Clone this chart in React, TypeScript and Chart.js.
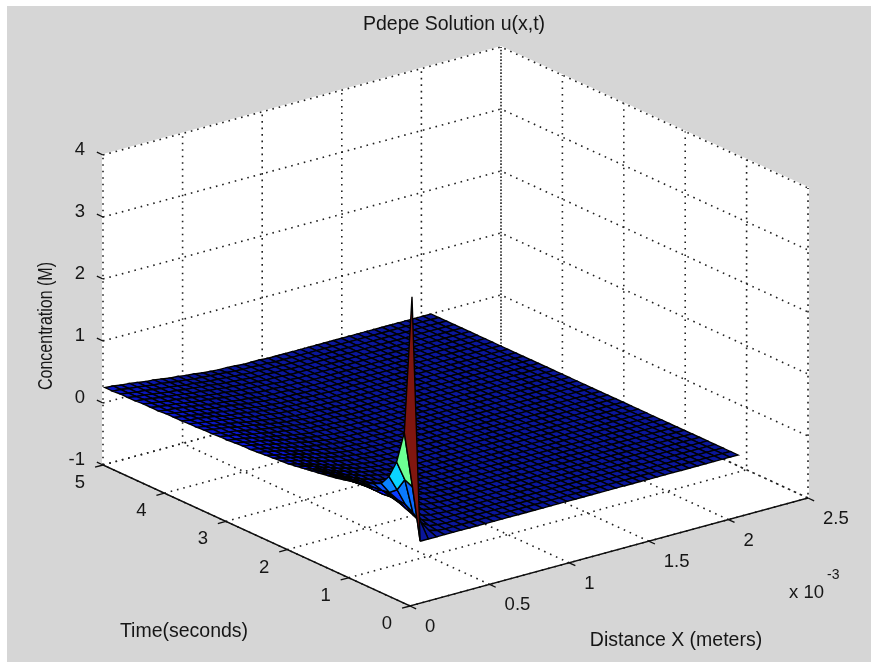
import React, { useEffect, useRef } from "react";
import { Chart, registerables } from "chart.js";

Chart.register(...registerables);

const titleText = "Pdepe Solution u(x,t)";
const xAxisLabel = "Distance X (meters)";
const tAxisLabel = "Time(seconds)";
const zAxisLabel = "Concentration (M)";

// axis ticks (x in units of 1e-3 m)
const xTicks = [0, 0.5, 1, 1.5, 2, 2.5];
const xTickLabels = ["0", "0.5", "1", "1.5", "2", "2.5"];
const tTicks = [0, 1, 2, 3, 4, 5];
const tTickLabels = ["0", "1", "2", "3", "4", "5"];
const zTicks = [-1, 0, 1, 2, 3, 4];
const zTickLabels = ["-1", "0", "1", "2", "3", "4"];

// mesh of the solution: distance (1e-3 m) and time (s)
const xGrid = [
  0.0125, 0.0637, 0.1149, 0.1661, 0.2173, 0.2685, 0.3197, 0.3709, 0.4221, 0.4733, 0.5245,
  0.5757, 0.6269, 0.6781, 0.7293, 0.7805, 0.8317, 0.8829, 0.9341, 0.9853, 1.0365, 1.0877,
  1.1389, 1.1901, 1.2413, 1.2925, 1.3437, 1.3949, 1.4461, 1.4973, 1.5485, 1.5997, 1.6509,
  1.7021, 1.7533, 1.8045, 1.8557, 1.9069, 1.9581, 2.0093, 2.0605,
];
const tGrid = [
  0, 0.125, 0.25, 0.375, 0.5, 0.625, 0.75, 0.875, 1, 1.125, 1.25, 1.375, 1.5, 1.625,
  1.75, 1.875, 2, 2.125, 2.25, 2.375, 2.5, 2.625, 2.75, 2.875, 3, 3.125, 3.25, 3.375,
  3.5, 3.625, 3.75, 3.875, 4, 4.125, 4.25, 4.375, 4.5, 4.625, 4.75, 4.875, 5,
];

// u(x,t): one list per time, entries per xGrid position; entries not listed read as 0
const uByTime = [
  [3.98],
  [1.73, 0.82, 0.22, 0.05, 0.01],
  [1.2, 0.88, 0.31, 0.11, 0.03, 0.01],
  [0.91, 0.66, 0.39, 0.18, 0.07, 0.02, 0.01],
  [0.74, 0.56, 0.41, 0.23, 0.11, 0.05, 0.02, 0.01],
  [0.68, 0.54, 0.44, 0.28, 0.16, 0.09, 0.05, 0.02, 0.01],
  [0.62, 0.53, 0.45, 0.31, 0.2, 0.12, 0.07, 0.04, 0.02, 0.01],
  [0.58, 0.5, 0.39, 0.29, 0.21, 0.14, 0.09, 0.06, 0.03, 0.02, 0.01],
  [0.55, 0.48, 0.39, 0.3, 0.22, 0.16, 0.11, 0.07, 0.04, 0.03, 0.01, 0.01],
  [0.52, 0.46, 0.38, 0.3, 0.23, 0.17, 0.12, 0.08, 0.05, 0.03, 0.02, 0.01],
  [0.49, 0.44, 0.37, 0.3, 0.23, 0.17, 0.13, 0.09, 0.06, 0.04, 0.02, 0.01, 0.01],
  [0.47, 0.42, 0.36, 0.3, 0.24, 0.18, 0.13, 0.1, 0.07, 0.04, 0.03, 0.02, 0.01],
  [0.45, 0.41, 0.35, 0.29, 0.24, 0.18, 0.14, 0.1, 0.07, 0.05, 0.03, 0.02, 0.01, 0.01],
  [0.43, 0.39, 0.34, 0.29, 0.23, 0.19, 0.14, 0.11, 0.08, 0.05, 0.04, 0.02, 0.01, 0.01],
  [0.41, 0.37, 0.33, 0.28, 0.23, 0.19, 0.14, 0.11, 0.08, 0.06, 0.04, 0.02, 0.02, 0.01],
  [0.39, 0.36, 0.32, 0.27, 0.23, 0.18, 0.15, 0.11, 0.08, 0.06, 0.04, 0.03, 0.02, 0.01, 0.01],
  [0.37, 0.34, 0.3, 0.26, 0.22, 0.18, 0.14, 0.11, 0.08, 0.06, 0.04, 0.03, 0.02, 0.01, 0.01],
  [0.36, 0.33, 0.3, 0.26, 0.22, 0.18, 0.15, 0.11, 0.09, 0.06, 0.05, 0.03, 0.02, 0.01, 0.01],
  [0.35, 0.32, 0.29, 0.26, 0.22, 0.18, 0.15, 0.12, 0.09, 0.07, 0.05, 0.03, 0.02, 0.02, 0.01, 0.01],
  [0.34, 0.31, 0.28, 0.25, 0.22, 0.18, 0.15, 0.12, 0.09, 0.07, 0.05, 0.04, 0.03, 0.02, 0.01, 0.01],
  [0.33, 0.31, 0.28, 0.25, 0.21, 0.18, 0.15, 0.12, 0.1, 0.07, 0.05, 0.04, 0.03, 0.02, 0.01, 0.01],
  [0.32, 0.3, 0.27, 0.24, 0.21, 0.18, 0.15, 0.12, 0.1, 0.08, 0.06, 0.04, 0.03, 0.02, 0.01, 0.01],
  [0.32, 0.3, 0.27, 0.24, 0.21, 0.18, 0.15, 0.13, 0.1, 0.08, 0.06, 0.04, 0.03, 0.02, 0.02, 0.01],
  [0.31, 0.29, 0.26, 0.24, 0.21, 0.18, 0.15, 0.13, 0.1, 0.08, 0.06, 0.05, 0.03, 0.02, 0.02, 0.01, 0.01],
  [0.3, 0.28, 0.26, 0.23, 0.2, 0.18, 0.15, 0.13, 0.1, 0.08, 0.06, 0.05, 0.04, 0.03, 0.02, 0.01, 0.01],
  [0.3, 0.28, 0.26, 0.23, 0.2, 0.18, 0.15, 0.13, 0.11, 0.09, 0.07, 0.05, 0.04, 0.03, 0.02, 0.01, 0.01],
  [0.29, 0.27, 0.25, 0.23, 0.2, 0.18, 0.15, 0.13, 0.11, 0.09, 0.07, 0.05, 0.04, 0.03, 0.02, 0.02, 0.01],
  [0.29, 0.27, 0.25, 0.23, 0.2, 0.18, 0.16, 0.13, 0.11, 0.09, 0.07, 0.06, 0.04, 0.03, 0.02, 0.02, 0.01, 0.01],
  [0.28, 0.26, 0.24, 0.22, 0.2, 0.18, 0.15, 0.13, 0.11, 0.09, 0.07, 0.06, 0.04, 0.03, 0.03, 0.02, 0.01, 0.01],
  [0.28, 0.26, 0.24, 0.22, 0.2, 0.18, 0.16, 0.14, 0.11, 0.1, 0.08, 0.06, 0.05, 0.04, 0.03, 0.02, 0.01, 0.01],
  [0.27, 0.25, 0.24, 0.22, 0.2, 0.17, 0.15, 0.14, 0.12, 0.1, 0.08, 0.06, 0.05, 0.04, 0.03, 0.02, 0.02, 0.01],
  [0.27, 0.25, 0.23, 0.21, 0.19, 0.17, 0.15, 0.13, 0.12, 0.1, 0.08, 0.06, 0.05, 0.04, 0.03, 0.02, 0.02, 0.01, 0.01],
  [0.27, 0.25, 0.23, 0.21, 0.19, 0.17, 0.15, 0.14, 0.12, 0.1, 0.08, 0.07, 0.05, 0.04, 0.03, 0.02, 0.02, 0.01, 0.01],
  [0.26, 0.24, 0.23, 0.21, 0.19, 0.17, 0.15, 0.13, 0.12, 0.1, 0.08, 0.07, 0.05, 0.04, 0.03, 0.03, 0.02, 0.01, 0.01],
  [0.26, 0.24, 0.22, 0.21, 0.19, 0.17, 0.15, 0.14, 0.12, 0.1, 0.09, 0.07, 0.06, 0.04, 0.03, 0.03, 0.02, 0.01, 0.01],
  [0.26, 0.24, 0.22, 0.2, 0.19, 0.17, 0.15, 0.13, 0.12, 0.1, 0.09, 0.07, 0.06, 0.05, 0.04, 0.03, 0.02, 0.01, 0.01],
  [0.25, 0.24, 0.22, 0.2, 0.18, 0.17, 0.15, 0.13, 0.12, 0.1, 0.09, 0.07, 0.06, 0.05, 0.04, 0.03, 0.02, 0.02, 0.01],
  [0.25, 0.23, 0.22, 0.2, 0.18, 0.16, 0.15, 0.13, 0.12, 0.1, 0.09, 0.07, 0.06, 0.05, 0.04, 0.03, 0.02, 0.02, 0.01, 0.01],
  [0.25, 0.23, 0.21, 0.2, 0.18, 0.16, 0.15, 0.13, 0.11, 0.1, 0.08, 0.07, 0.06, 0.05, 0.04, 0.03, 0.02, 0.02, 0.01, 0.01],
  [0.24, 0.23, 0.21, 0.2, 0.18, 0.16, 0.15, 0.13, 0.11, 0.1, 0.08, 0.07, 0.06, 0.05, 0.04, 0.03, 0.02, 0.02, 0.01, 0.01],
  [0.24, 0.23, 0.21, 0.2, 0.18, 0.16, 0.15, 0.13, 0.11, 0.1, 0.08, 0.07, 0.05, 0.04, 0.03, 0.03, 0.02, 0.01, 0.01, 0.01],
];

const W = 871;
const H = 662;
const X_MAX = 2.5;
const T_MAX = 5;
const Z_MIN = -1;
const Z_MAX = 4;
const COLOR_MAX = 3.6;

// fixed orthographic view of the 3-D box on the chart's plane
function project(x: number, t: number, z: number) {
  const a = x / X_MAX;
  const b = t / T_MAX;
  return {
    x: 410 + 398 * a - 307 * b,
    y: 606 - 108 * a - 141 * b - 62 * (z - Z_MIN),
  };
}

function jet(v: number) {
  const k = Math.max(0, Math.min(1, v));
  const ch = (c: number) => Math.max(0, Math.min(1, 1.5 - Math.abs(4 * k - c)));
  const r = Math.max(10, Math.round(ch(3) * 255));
  const g = Math.max(22, Math.round(ch(2) * 255));
  const b = ch(3) > 0.3 ? Math.round(ch(1) * 255) : Math.max(155, Math.round(ch(1) * 255));
  return `rgb(${r},${g},${Math.max(b, 15)})`;
}

const u = (i: number, j: number) => uByTime[j][i] ?? 0;

function line(points: { x: number; y: number }[], color: string, width: number, dash: number[] = []) {
  return {
    data: points,
    showLine: true,
    fill: false,
    tension: 0,
    pointRadius: 0,
    borderColor: color,
    borderWidth: width,
    borderDash: dash,
    borderCapStyle: "butt",
  };
}

function polygon(points: { x: number; y: number }[], fillColor: string, edge: string, width: number) {
  return {
    data: [...points, points[0]],
    showLine: true,
    fill: "shape",
    tension: 0,
    pointRadius: 0,
    backgroundColor: fillColor,
    borderColor: edge,
    borderWidth: width,
    borderJoinStyle: "miter",
  };
}

function buildDatasets() {
  const out: any[] = [];
  const GRID = "#202020";
  const DOTS = [1.6, 4.9];
  const AXIS = "#101010";

  // white box behind the surface
  out.push(
    polygon(
      [
        project(0, T_MAX, Z_MIN),
        project(0, T_MAX, Z_MAX),
        project(X_MAX, T_MAX, Z_MAX),
        project(X_MAX, 0, Z_MAX),
        project(X_MAX, 0, Z_MIN),
        project(0, 0, Z_MIN),
      ],
      "#ffffff",
      "#ffffff",
      2
    )
  );

  // dotted grid: floor and the two back walls
  for (const x of xTicks) {
    out.push(line([project(x, 0, Z_MIN), project(x, T_MAX, Z_MIN), project(x, T_MAX, Z_MAX)], GRID, 1.6, DOTS));
  }
  for (const t of tTicks) {
    out.push(line([project(0, t, Z_MIN), project(X_MAX, t, Z_MIN), project(X_MAX, t, Z_MAX)], GRID, 1.6, DOTS));
  }
  for (const z of zTicks) {
    out.push(line([project(0, T_MAX, z), project(X_MAX, T_MAX, z), project(X_MAX, 0, z)], GRID, 1.6, DOTS));
  }

  // axis lines and tick marks
  out.push(line([project(0, T_MAX, Z_MIN), project(0, 0, Z_MIN), project(X_MAX, 0, Z_MIN)], AXIS, 1.6));
  const xMark = 0.06 * X_MAX / 3;
  const tMark = 0.02 * T_MAX;
  for (const x of xTicks) {
    out.push(line([project(x, 0, Z_MIN), project(x, -tMark, Z_MIN)], AXIS, 1.3));
  }
  for (const t of tTicks) {
    out.push(line([project(0, t, Z_MIN), project(-xMark, t, Z_MIN)], AXIS, 1.3));
  }
  for (const z of zTicks) {
    out.push(line([project(0, T_MAX, z), project(0, T_MAX + tMark, z)], AXIS, 1.3));
  }

  // surface facets, painted from the far corner to the near one
  for (let j = tGrid.length - 2; j >= 0; j--) {
    for (let i = xGrid.length - 2; i >= 0; i--) {
      out.push(
        polygon(
          [
            project(xGrid[i], tGrid[j], u(i, j)),
            project(xGrid[i + 1], tGrid[j], u(i + 1, j)),
            project(xGrid[i + 1], tGrid[j + 1], u(i + 1, j + 1)),
            project(xGrid[i], tGrid[j + 1], u(i, j + 1)),
          ],
          jet(u(i, j) / COLOR_MAX),
          "#000000",
          1.4
        )
      );
    }
  }
  // Chart.js paints the first dataset last
  return out.reverse();
}

const labelsPlugin = {
  id: "axisLabels",
  afterDraw(chart: any) {
    const { ctx, scales } = chart;
    const px = (v: number) => scales.x.getPixelForValue(v);
    const py = (v: number) => scales.y.getPixelForValue(v);
    const put = (s: string, x: number, y: number, align: CanvasTextAlign, font: string) => {
      ctx.font = font;
      ctx.textAlign = align;
      ctx.textBaseline = "middle";
      ctx.fillText(s, px(x), py(y));
    };
    const tickFont = '18.5px "Liberation Sans", Arial, sans-serif';
    const labelFont = '19.5px "Liberation Sans", Arial, sans-serif';
    ctx.save();
    ctx.fillStyle = "#161616";
    put(titleText, 454, 25, "center", labelFont);
    xTicks.forEach((x, k) => {
      const p = project(x, 0, Z_MIN);
      put(xTickLabels[k], p.x + 15, p.y + 21, "left", tickFont);
    });
    tTicks.forEach((t, k) => {
      const p = project(0, t, Z_MIN);
      put(tTickLabels[k], p.x - 23, p.y + 18, "center", tickFont);
    });
    zTicks.forEach((z, k) => {
      const p = project(0, T_MAX, z);
      put(zTickLabels[k], p.x - 18, p.y - 5, "right", tickFont);
    });
    put(xAxisLabel, 676, 641, "center", labelFont);
    put(tAxisLabel, 184, 632, "center", labelFont);
    put("x 10", 789, 593, "left", tickFont);
    put("-3", 827, 575, "left", '14px "Liberation Sans", Arial, sans-serif');
    ctx.translate(px(47), py(326));
    ctx.rotate(-Math.PI / 2);
    ctx.scale(0.82, 1);
    ctx.font = labelFont;
    ctx.textAlign = "center";
    ctx.textBaseline = "middle";
    ctx.fillText(zAxisLabel, 0, 0);
    ctx.restore();
  },
};

export default function App() {
  const ref = useRef<HTMLCanvasElement>(null);
  useEffect(() => {
    if (!ref.current) return;
    const chart = new Chart(ref.current, {
      type: "scatter",
      data: { datasets: buildDatasets() },
      options: {
        animation: false,
        responsive: false,
        events: [],
        layout: { padding: 0 },
        plugins: { legend: { display: false }, tooltip: { enabled: false }, title: { display: false } },
        scales: {
          x: { type: "linear", display: false, min: 0, max: W },
          y: { type: "linear", display: false, min: 0, max: H, reverse: true },
        },
      },
      plugins: [labelsPlugin],
    } as any);
    return () => chart.destroy();
  }, []);
  return (
    <div style={{ position: "fixed", left: 0, top: 0, width: W, height: H, background: "#ffffff", overflow: "hidden" }}>
      <div style={{ position: "absolute", left: 7, top: 6, width: W - 7, height: H - 6, background: "#d6d6d6" }} />
      <canvas ref={ref} width={W} height={H} style={{ position: "absolute", left: 0, top: 0, width: W, height: H, filter: "blur(0.45px)" }} />
    </div>
  );
}
